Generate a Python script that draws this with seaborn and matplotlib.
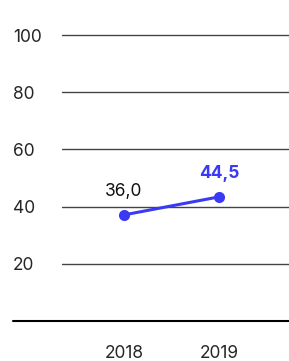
import pandas as pd
import seaborn as sns
import matplotlib.pyplot as plt
from matplotlib.lines import Line2D

years = [2018, 2019]
values = [37.1, 43.4]
value_labels = ["36,0", "44,5"]
y_ticks = [20, 40, 60, 80, 100]

df = pd.DataFrame({"year": years, "value": values})

sns.set_style("white")
plt.rcParams["font.family"] = ["Inter", "DejaVu Sans"]

W, H = 289, 361
fig = plt.figure(figsize=(W / 100, H / 100), dpi=100)
# axes spans gridline area; 0 -> y=321px, 100 -> y=35px
ppu = (321 - 35) / 100
bot_px = 321 + 4 * ppu
top_px = 35 - 4 * ppu
ax = fig.add_axes([62 / W, 1 - bot_px / H, 1 - 62 / W, (bot_px - top_px) / H])

blue = "#3a3af4"
sns.lineplot(data=df, x="year", y="value", ax=ax, color=blue, linewidth=2.2,
             marker="o", markersize=8, markeredgewidth=0)

ax.set_ylim(-4, 104)
ax.set_xlim(2018 - 62 / 95, 2019 + 70 / 95)
for v in y_ticks:
    ax.axhline(v, color="#444444", linewidth=1, zorder=0)

ax.set_yticks(y_ticks)
ax.set_yticklabels([str(v) for v in y_ticks], fontsize=12.5, ha="left")
ax.tick_params(axis="y", length=0, pad=49 * 0.72)
ax.set_xticks(years)
ax.set_xticklabels([str(y) for y in years], fontsize=12.5)
ax.tick_params(axis="x", length=0, pad=9)
ax.set_xlabel("")
ax.set_ylabel("")
for s in ax.spines.values():
    s.set_visible(False)

# baseline extending to the left edge
fig.add_artist(Line2D([13 / W, 1], [1 - 321 / H, 1 - 321 / H], color="black", linewidth=1.5))

ax.annotate(value_labels[0], (years[0], values[0]), xytext=(0, 11), textcoords="offset points",
            ha="center", va="bottom", fontsize=12.5, color="#111111")
ax.annotate(value_labels[1], (years[1], values[1]), xytext=(0, 11), textcoords="offset points",
            ha="center", va="bottom", fontsize=12.5, color=blue, fontweight="bold")

fig.savefig("out.png", dpi=100)
